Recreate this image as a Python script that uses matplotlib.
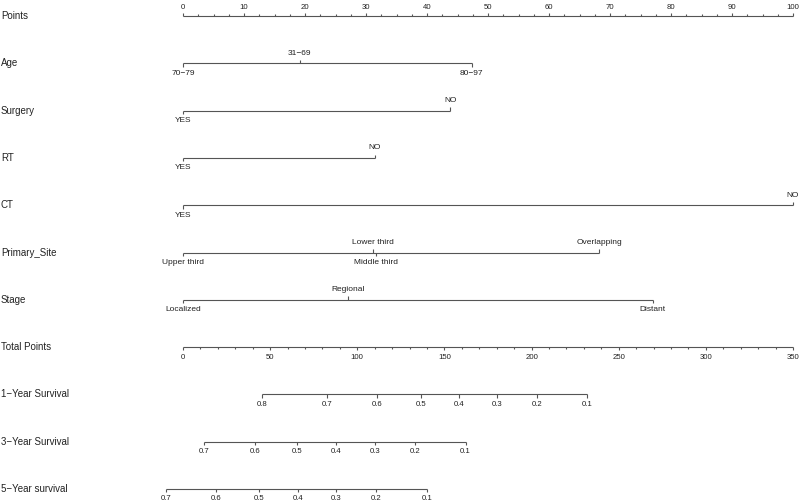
import numpy as np
import matplotlib.pyplot as plt
from matplotlib.transforms import blended_transform_factory

plt.rcParams['font.family'] = ['Liberation Sans', 'DejaVu Sans']

row_names = ['Points', 'Age', 'Surgery', 'RT', 'CT', 'Primary_Site', 'Stage',
             'Total Points', '1\u2212Year Survival', '3\u2212Year Survival',
             '5\u2212Year survival']

# predictor levels and their points (0-100 scale)
age_levels = ['70\u221279', '31\u221269', '80\u221297']
age_points = [0, 19.1, 47.3]
surgery_levels = ['YES', 'NO']
surgery_points = [0, 43.8]
rt_levels = ['YES', 'NO']
rt_points = [0, 31.4]
ct_levels = ['YES', 'NO']
ct_points = [0, 100]
site_levels = ['Upper third', 'Lower third', 'Middle third', 'Overlapping']
site_points = [0, 31.2, 31.6, 68.2]
stage_levels = ['Localized', 'Regional', 'Distant']
stage_points = [0, 27.0, 77.0]

# survival probabilities and matching total points
surv1_labels = ['0.8', '0.7', '0.6', '0.5', '0.4', '0.3', '0.2', '0.1']
surv1_total = [45.6, 82.6, 111.4, 136.6, 158.2, 180.3, 203.3, 231.6]
surv3_labels = ['0.7', '0.6', '0.5', '0.4', '0.3', '0.2', '0.1']
surv3_total = [12.1, 41.2, 65.3, 87.8, 110.1, 133.1, 162.1]
surv5_labels = ['0.7', '0.6', '0.5', '0.4', '0.3', '0.2', '0.1']
surv5_total = [-9.8, 19.0, 43.7, 65.8, 87.9, 110.9, 140.2]

max_total = 350

line_col = '#555555'
text_col = '#222222'
lw = 0.8
tick = 0.07
tick_minor = 0.035
off = 0.21
fs_row, fs_cat, fs_num = 7, 6, 5.6

fig = plt.figure(figsize=(8, 5.04), dpi=100)
ax = fig.add_axes([183 / 800, 15 / 504, 610 / 800, 473 / 504])
ax.set_xlim(0, 100)
ax.set_ylim(10, 0)
ax.axis('off')

lab_tr = blended_transform_factory(fig.transFigure, ax.transData)
for i, name in enumerate(row_names):
    ax.text(0.001, i, name, transform=lab_tr, ha='left', va='center',
            fontsize=fs_row, color=text_col)


def seg(x0, x1, y0, y1):
    ax.plot([x0, x1], [y0, y1], color=line_col, lw=lw, clip_on=False,
            solid_capstyle='butt')


# Points axis
seg(0, 100, 0, 0)
for v in np.arange(0, 100.1, 2.5):
    major = v % 10 == 0
    seg(v, v, 0, -(tick if major else tick_minor))
    if major:
        ax.text(v, -0.19, f'{int(v)}', ha='center', va='center',
                fontsize=fs_num, color=text_col)


def cat_row(row, levels, pts):
    seg(min(pts), max(pts), row, row)
    order = np.argsort(pts, kind='stable')
    for k, i in enumerate(order):
        side = 1 if k % 2 == 0 else -1
        seg(pts[i], pts[i], row, row + side * tick)
        ax.text(pts[i], row + side * off, levels[i], ha='center',
                va='center', fontsize=fs_cat, color=text_col)


cat_row(1, age_levels, age_points)
cat_row(2, surgery_levels, surgery_points)
cat_row(3, rt_levels, rt_points)
cat_row(4, ct_levels, ct_points)
cat_row(5, site_levels, site_points)
cat_row(6, stage_levels, stage_points)

# Total points axis
scale = 100 / max_total
seg(0, 100, 7, 7)
for v in np.arange(0, max_total + 1, 10):
    major = v % 50 == 0
    seg(v * scale, v * scale, 7, 7 + (tick if major else tick_minor))
    if major:
        ax.text(v * scale, 7 + off, f'{int(v)}', ha='center', va='center',
                fontsize=fs_num, color=text_col)


def surv_row(row, labels, totals):
    xs = [t * scale for t in totals]
    seg(min(xs), max(xs), row, row)
    for x, lab in zip(xs, labels):
        seg(x, x, row, row + tick)
        ax.text(x, row + off, lab, ha='center', va='center',
                fontsize=fs_num, color=text_col)


surv_row(8, surv1_labels, surv1_total)
surv_row(9, surv3_labels, surv3_total)
surv_row(10, surv5_labels, surv5_total)

fig.savefig('out.png', dpi=100, facecolor='white')
